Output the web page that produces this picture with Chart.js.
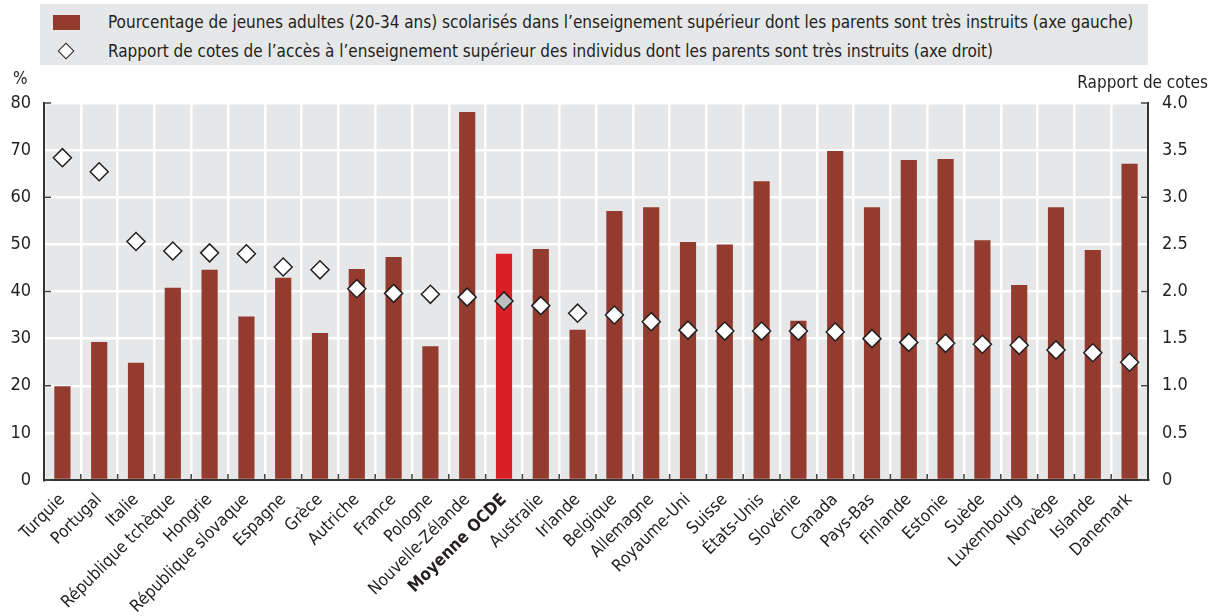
<!DOCTYPE html>
<html lang="fr">
<head>
<meta charset="utf-8">
<script src="https://cdn.jsdelivr.net/npm/chart.js@4"></script>
<style>
  html, body { margin: 0; padding: 0; background: #fff; }
  body { width: 1218px; height: 616px; position: relative; overflow: hidden;
         font-family: 'Liberation Sans Narrow', 'DejaVu Sans Condensed', sans-serif; color: #231f20; }
  #legend { position: absolute; left: 40px; top: 4px; width: 1108px; height: 61px; background: #e6e7e8; }
  .row { position: absolute; left: 0; height: 24px; line-height: 24px; font-size: 17px; white-space: nowrap; }
  .row span.txt { position: absolute; left: 68px; }
  .swatch { position: absolute; left: 13px; top: 5px; width: 27px; height: 15px; background: #943b2f; }
  .diamond { position: absolute; left: 20px; top: 6px; width: 10px; height: 10px; background: #fff;
             border: 1.5px solid #231f20; transform: rotate(45deg); }
  .axtitle { position: absolute; font-size: 17px; }
  #chartWrap { position: absolute; left: 0; top: 0; width: 1218px; height: 616px; }
</style>
</head>
<body>
<div id="chartWrap"><canvas id="chart" width="1218" height="616"></canvas></div>
<div id="legend">
  <div class="row" style="top:6px"><span class="swatch"></span><span class="txt">Pourcentage de jeunes adultes (20-34 ans) scolarisés dans l’enseignement supérieur dont les parents sont très instruits (axe gauche)</span></div>
  <div class="row" style="top:35px"><span class="diamond"></span><span class="txt">Rapport de cotes de l’accès à l’enseignement supérieur des individus dont les parents sont très instruits (axe droit)</span></div>
</div>
<div class="axtitle" style="left:13px; top:68px;">%</div>
<div class="axtitle" style="right:10px; top:72px;">Rapport de cotes</div>
<script>
const countries = ["Turquie", "Portugal", "Italie", "République tchèque", "Hongrie", "République slovaque",
  "Espagne", "Grèce", "Autriche", "France", "Pologne", "Nouvelle-Zélande", "Moyenne OCDE", "Australie",
  "Irlande", "Belgique", "Allemagne", "Royaume-Uni", "Suisse", "États-Unis", "Slovénie", "Canada",
  "Pays-Bas", "Finlande", "Estonie", "Suède", "Luxembourg", "Norvège", "Islande", "Danemark"];

// % of young adults (20-34) in tertiary education with highly educated parents (left axis)
const enrolled = [19.9, 29.3, 24.9, 40.8, 44.6, 34.7, 42.9, 31.2, 44.8, 47.3, 28.4, 78.1, 48.0, 49.0,
  31.9, 57.1, 57.9, 50.5, 50.0, 63.4, 33.8, 69.8, 57.9, 67.9, 68.1, 50.9, 41.4, 57.9, 48.8, 67.1];

// odds ratio (right axis)
const oddsRatio = [3.42, 3.27, 2.53, 2.43, 2.41, 2.40, 2.26, 2.23, 2.03, 1.98, 1.97, 1.94, 1.90, 1.85,
  1.77, 1.75, 1.68, 1.59, 1.58, 1.58, 1.58, 1.57, 1.50, 1.46, 1.45, 1.44, 1.43, 1.38, 1.35, 1.25];

const leftTicks = [0, 10, 20, 30, 40, 50, 60, 70, 80];
const rightTicks = [0, 0.5, 1.0, 1.5, 2.0, 2.5, 3.0, 3.5, 4.0];

const avgIndex = countries.indexOf("Moyenne OCDE");
const FONT = "'Liberation Sans Narrow', 'DejaVu Sans Condensed', sans-serif";
const TEXT = "#231f20";

// gray plot background
const plotBg = {
  id: "plotBg",
  beforeDraw(chart) {
    const { ctx, chartArea: a } = chart;
    ctx.save();
    ctx.fillStyle = "#e6e7e8";
    ctx.fillRect(a.left, a.top, a.right - a.left, a.bottom - a.top);
    ctx.restore();
  }
};

// small inward tick marks on the axes
const innerTicks = {
  id: "innerTicks",
  afterDatasetsDraw(chart) {
    const { ctx, chartArea: a, scales } = chart;
    ctx.save();
    ctx.strokeStyle = "#444";
    ctx.lineWidth = 1.5;
    ctx.beginPath();
    const n = countries.length;
    for (let i = 1; i < n; i++) {
      const x = (scales.x.getPixelForValue(i - 1) + scales.x.getPixelForValue(i)) / 2;
      ctx.moveTo(x, a.bottom); ctx.lineTo(x, a.bottom - 6);
    }
    leftTicks.forEach(v => {
      if (v % 20 !== 0) return;
      const y = scales.y.getPixelForValue(v);
      ctx.moveTo(a.left, y); ctx.lineTo(a.left + 7, y);
    });
    rightTicks.forEach(v => {
      if (v % 1 !== 0) return;
      const y = scales.y2.getPixelForValue(v);
      ctx.moveTo(a.right, y); ctx.lineTo(a.right - 7, y);
    });
    ctx.stroke();
    ctx.restore();
  }
};

Chart.defaults.font.family = FONT;
Chart.defaults.color = TEXT;

new Chart(document.getElementById("chart"), {
  type: "bar",
  data: {
    labels: countries,
    datasets: [
      {
        type: "line",
        label: "Rapport de cotes",
        data: oddsRatio,
        yAxisID: "y2",
        showLine: false,
        pointStyle: "rectRot",
        pointRadius: 9,
        pointHoverRadius: 9,
        pointBackgroundColor: countries.map((c, i) => i === avgIndex ? "#bdbec0" : "#ffffff"),
        pointBorderColor: "#231f20",
        pointBorderWidth: 1.5,
        order: 0
      },
      {
        label: "Pourcentage",
        data: enrolled,
        yAxisID: "y",
        backgroundColor: countries.map((c, i) => i === avgIndex ? "#da1f26" : "#943b2f"),
        barPercentage: 0.44,
        categoryPercentage: 1,
        order: 1
      }
    ]
  },
  options: {
    animation: false,
    responsive: false,
    layout: { padding: { top: 103, left: 0, right: 0, bottom: 0 } },
    plugins: { legend: { display: false }, tooltip: { enabled: false } },
    scales: {
      x: {
        grid: { color: "#ffffff", lineWidth: 2.5, drawTicks: false, offset: true },
        border: { color: "#333", width: 2 },
        ticks: {
          autoSkip: false,
          maxRotation: 45,
          minRotation: 45,
          padding: 10,
          color: TEXT,
          font: ctx => ctx.index === avgIndex
            ? { size: 17, weight: "bold", family: FONT }
            : { size: 17, family: FONT }
        },
        afterFit(scale) { scale.height = 136; }
      },
      y: {
        position: "left",
        min: 0,
        max: 80,
        afterBuildTicks(scale) { scale.ticks = leftTicks.map(v => ({ value: v })); },
        grid: { color: "#ffffff", lineWidth: 2.5, drawTicks: false },
        border: { color: "#333", width: 2 },
        ticks: { padding: 13, color: TEXT, font: { size: 18 } },
        afterFit(scale) { scale.width = 44; }
      },
      y2: {
        position: "right",
        min: 0,
        max: 4,
        afterBuildTicks(scale) { scale.ticks = rightTicks.map(v => ({ value: v })); },
        grid: { display: false, drawTicks: false },
        border: { color: "#333", width: 2 },
        ticks: {
          padding: 14,
          color: TEXT,
          font: { size: 18 },
          callback: v => v === 0 ? "0" : Number(v).toFixed(1)
        },
        afterFit(scale) { scale.width = 70; }
      }
    }
  },
  plugins: [plotBg, innerTicks]
});
</script>
</body>
</html>
